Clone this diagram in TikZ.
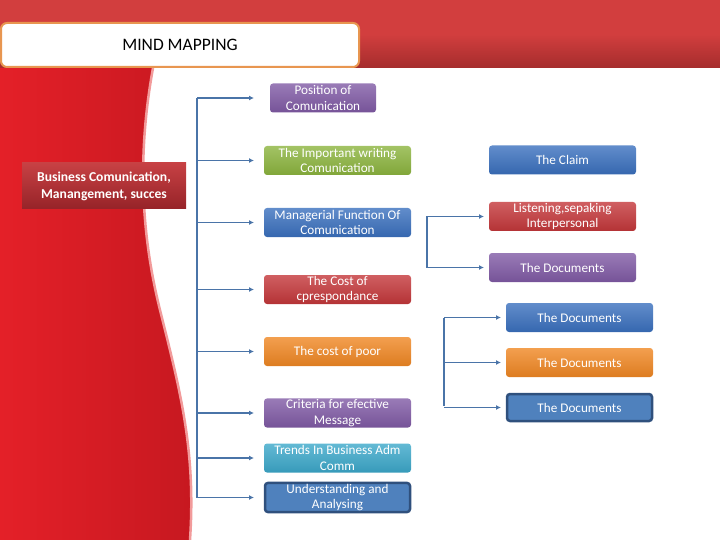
\documentclass[tikz,border=0pt]{standalone}
\usepackage{fontspec}
\setmainfont{Carlito}
\usetikzlibrary{arrows.meta}

\definecolor{mmpurple}{RGB}{128,90,165}
\definecolor{mmgreen}{RGB}{140,180,62}
\definecolor{mmblue}{RGB}{58,112,190}
\definecolor{mmred}{RGB}{196,55,58}
\definecolor{mmorange}{RGB}{240,135,35}
\definecolor{mmcyan}{RGB}{60,168,202}
\definecolor{mmsteel}{RGB}{79,129,189}
\definecolor{mmborder}{RGB}{47,80,125}
\definecolor{mmline}{RGB}{74,116,168}
\definecolor{mmbanner}{RGB}{210,62,62}
\definecolor{mmbannerdk}{RGB}{165,45,45}
\definecolor{mmband}{RGB}{228,32,40}
\definecolor{mmbanddk}{RGB}{198,24,32}
\definecolor{mmedge}{RGB}{242,155,155}
\definecolor{mmtitle}{RGB}{232,150,80}
\definecolor{mmdark}{RGB}{150,35,40}

\begin{document}
\begin{tikzpicture}[x=1pt,y=-1pt,
  box/.style={rounded corners=3pt,minimum width=147pt,minimum height=29pt,
    inner sep=1pt,align=center,text=white,
    font=\fontsize{13.2}{15.7}\selectfont},
  cbox/.style={box,top color=#1!80!white,bottom color=#1!92!black},
  bbox/.style={box,fill=mmsteel,draw=mmborder,line width=2.5pt},
  conn/.style={mmline,line width=1.5pt},
  arr/.style={conn,-{Latex[length=5pt,width=5pt]}}]
\useasboundingbox (0,0) rectangle (720,540);

% banner and red band
\shade[top color=mmbanner,bottom color=mmbannerdk,middle color=mmbanner]
  (0,0) rectangle (720,68);
\shade[left color=mmband,right color=mmbanddk]
  (0,68) -- (153,68) .. controls (138,150) and (140,230) .. (160,310)
  .. controls (180,390) and (196,450) .. (190,540) -- (0,540) -- cycle;
\draw[mmedge,line width=2.5pt]
  (153,68) .. controls (138,150) and (140,230) .. (160,310)
  .. controls (180,390) and (196,450) .. (190,540);

% title
\draw[mmtitle,fill=white,line width=2pt,rounded corners=6pt] (1,23) rectangle (359,67);
\node[font=\fontsize{17.5}{20}\selectfont] (title) at (180,45) {MIND MAPPING};

\node[top color=mmred!95!white,bottom color=mmdark,minimum width=164pt,minimum height=46pt,
  text=white,align=center,font=\bfseries\fontsize{13.6}{17}\selectfont]
  (bus) at (104,186) {Business Comunication,\\Manangement, succes};

% main column
\node[cbox=mmpurple,minimum width=106pt] (pos) at (323,98) {Position of\\Comunication};
\node[cbox=mmgreen] (imp) at (337.5,160.5) {The Important writing\\Comunication};
\node[cbox=mmblue] (mng) at (337.5,222.5) {Managerial Function Of\\Comunication};
\node[cbox=mmred] (cor) at (337.5,289.5) {The Cost of\\cprespondance};
\node[cbox=mmorange] (poor) at (337.5,351.5) {The cost of poor};
\node[cbox=mmpurple] (crit) at (337.5,413) {Criteria for efective\\Message};
\node[cbox=mmcyan] (trend) at (337.5,458) {Trends In Business Adm\\Comm};
\node[bbox,minimum width=145pt,minimum height=27pt] (und) at (337.5,497.5) {Understanding and\\Analysing};

% right column
\node[cbox=mmblue] (claim) at (562.5,160) {The Claim};
\node[cbox=mmred] (lis) at (562.5,216.5) {Listening,sepaking\\Interpersonal};
\node[cbox=mmpurple] (doca) at (562.5,267.5) {The Documents};
\node[cbox=mmblue] (docb) at (579.5,317.5) {The Documents};
\node[cbox=mmorange] (docc) at (579.5,362.5) {The Documents};
\node[bbox,minimum width=145pt,minimum height=27pt] (docd) at (579.5,407.5) {The Documents};

% connectors
\coordinate (trunk) at (197,0);
\coordinate (tip) at (254,0);
\draw[conn] (trunk |- pos) -- (trunk |- und);
\foreach \n in {pos,imp,mng,cor,poor,crit,trend,und}
  \draw[arr] (trunk |- \n) -- (tip |- \n);

\coordinate (trunkb) at (427,0);
\coordinate (tipb) at (484,0);
\draw[conn] (trunkb |- lis) -- (trunkb |- doca);
\foreach \n in {lis,doca}
  \draw[arr] (trunkb |- \n) -- (tipb |- \n);

\coordinate (trunkc) at (444,0);
\coordinate (tipc) at (501,0);
\draw[conn] (trunkc |- docb) -- ([yshift=2pt]trunkc |- docd);
\foreach \n in {docb,docc,docd}
  \draw[arr] (trunkc |- \n) -- (tipc |- \n);

\end{tikzpicture}
\end{document}
